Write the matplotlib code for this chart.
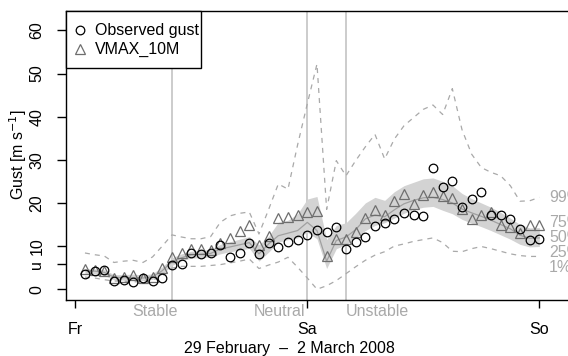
import numpy as np
import matplotlib.pyplot as plt
from matplotlib.patches import Rectangle
from matplotlib.transforms import blended_transform_factory

plt.rcParams['font.family'] = ['Liberation Sans', 'DejaVu Sans']

# hours after Friday 00 UTC
hours = np.arange(1, 49)

observed = [3.5, 4.2, 4.4, 1.8, 2.2, 1.7, 2.6, 1.9, 2.7, 5.5,
            5.9, 8.4, 8.2, 8.4, 10.3, 7.4, 8.4, 10.8, 8.1, 10.7,
            9.8, 10.9, 11.3, 12.6, 13.8, 13.2, 14.5, 9.4, 11.0, 12.0,
            14.6, 15.4, 16.2, 17.6, 17.3, 16.9, 28.0, 23.6, 25.2, 19.0,
            20.9, 22.5, 17.3, 17.1, 16.3, 14.0, 11.5, 11.6]

vmax_10m = [4.8, 4.5, 4.2, 2.7, 2.8, 3.2, 2.5, 2.8, 5.0, 7.5,
            8.4, 9.3, 9.3, 9.0, 10.8, 11.8, 13.6, 15.0, 10.3, 12.4,
            16.4, 16.7, 17.3, 18.0, 18.2, 7.6, 11.7, 11.7, 13.3, 16.6,
            18.4, 17.1, 20.5, 22.0, 19.8, 21.9, 22.5, 21.7, 21.2, 18.6,
            16.2, 17.3, 17.8, 14.8, 14.4, 13.0, 14.8, 14.8]

q01 = [2.8, 2.6, 2.2, 1.9, 1.9, 1.7, 1.8, 2.1, 3.0, 4.9,
       5.3, 5.3, 5.3, 5.5, 5.7, 6.1, 6.5, 7.0, 4.8, 5.6,
       6.3, 7.4, 5.1, 2.6, 0.0, 0.8, 2.0, 3.6, 5.2, 6.7,
       7.9, 8.7, 10.0, 10.5, 11.1, 11.5, 11.9, 10.8, 8.8, 8.7,
       9.4, 9.9, 9.4, 8.8, 8.2, 7.8, 7.6, 7.6]

q25 = [3.7, 3.6, 3.2, 2.2, 2.1, 2.0, 2.0, 2.3, 3.5, 5.5,
       6.6, 7.2, 7.3, 7.5, 8.2, 8.7, 9.0, 9.5, 6.5, 8.6,
       10.9, 11.5, 11.9, 13.2, 11.7, 4.8, 9.4, 10.3, 11.9, 13.6,
       14.8, 15.4, 16.5, 17.6, 18.5, 19.0, 19.2, 18.3, 17.5, 16.2,
       15.3, 14.5, 13.6, 12.6, 11.6, 10.4, 9.8, 9.9]

q50 = [4.3, 4.2, 3.9, 2.8, 2.7, 2.7, 2.6, 2.9, 4.3, 6.4,
       7.3, 8.0, 8.1, 8.3, 9.3, 9.8, 10.3, 10.8, 8.2, 10.5,
       12.4, 13.0, 13.6, 15.5, 13.6, 6.5, 11.3, 12.1, 13.8, 16.3,
       17.2, 16.8, 18.4, 19.8, 20.6, 21.2, 21.3, 20.8, 20.0, 18.6,
       17.7, 16.9, 16.0, 15.0, 14.0, 12.5, 11.8, 11.9]

q75 = [4.8, 4.7, 4.5, 3.4, 3.4, 3.5, 3.3, 3.6, 5.2, 7.3,
       8.2, 8.8, 9.0, 9.2, 10.4, 11.0, 11.6, 12.2, 10.3, 12.3,
       15.5, 16.0, 17.5, 20.9, 21.5, 11.5, 14.8, 15.4, 17.6, 20.0,
       21.3, 20.6, 22.6, 24.0, 24.8, 25.6, 25.8, 25.0, 24.0, 22.2,
       21.0, 20.0, 19.0, 17.8, 16.5, 15.0, 14.2, 14.3]

q99 = [8.4, 8.0, 7.7, 6.2, 6.5, 6.7, 6.2, 7.5, 10.0, 12.6,
       12.1, 11.7, 11.7, 12.2, 15.5, 17.0, 17.6, 17.9, 12.8, 18.5,
       24.4, 23.2, 33.5, 43.0, 52.2, 18.5, 29.8, 26.3, 29.8, 33.0,
       35.9, 30.2, 34.8, 37.9, 39.8, 41.7, 42.7, 40.5, 46.5, 37.0,
       31.3, 28.2, 27.1, 26.3, 24.0, 20.4, 20.5, 21.3]

day_ticks = [0, 24, 48]
day_labels = ['Fr', 'Sa', 'So']
y_ticks = [0, 5.8, 10, 20, 30, 40, 50, 60]
y_labels = ['0', 'u', '10', '20', '30', '40', '50', '60']
regime_bounds = [10, 24, 28]
quant_names = ['99%', '75%', '50%', '25%', '1%']
quant_label_y = [21.3, 15.5, 12.1, 8.6, 5.1]
legend_names = ['Observed gust', 'VMAX_10M']

grey = '#a9a9a9'
fs = 11.5

fig = plt.figure(figsize=(5.68, 3.56), dpi=100)
ax = fig.add_axes([66/568, 56/356, 512/568, 289/356])

ax.fill_between(hours, q25, q75, color='#d3d3d3', lw=0, zorder=1)
ax.plot(hours, q50, color='#a0a0a0', lw=0.9, zorder=2)
ax.plot(hours, q99, color=grey, lw=0.9, ls=(0, (4, 4)), zorder=2)
ax.plot(hours, q01, color=grey, lw=0.9, ls=(0, (4, 4)), zorder=2)

for b in regime_bounds:
    ax.axvline(b, color='#c4c4c4', lw=1.2, zorder=0)

obs_style = dict(ls='none', marker='o', ms=6.2, mfc='none', mec='black', mew=0.9)
vmax_style = dict(ls='none', marker='^', ms=7.5, mfc='none', mec='#6e6e6e', mew=0.9)
ax.plot(hours, vmax_10m, zorder=3, **vmax_style)
ax.plot(hours, observed, zorder=4, **obs_style)

ax.set_xlim(-0.96, 52)
ax.set_ylim(-2.5, 64.5)

ax.set_xticks(day_ticks)
ax.set_xticklabels(day_labels, fontsize=fs)
ax.set_yticks(y_ticks)
ax.set_yticklabels(y_labels, fontsize=fs, rotation=90, va='center')
ax.tick_params(axis='x', length=6, width=1, pad=10)
ax.tick_params(axis='y', length=6.5, width=1, pad=9)
for s in ax.spines.values():
    s.set_linewidth(1)

# regime names below the axis
trans = blended_transform_factory(ax.transData, ax.transAxes)
ax.text(8.2, -0.04, 'Stable', transform=trans, ha='center', va='center',
        color=grey, fontsize=fs, clip_on=False)
ax.text(23.8, -0.04, 'Neutral', transform=trans, ha='right', va='center',
        color=grey, fontsize=fs, clip_on=False)
ax.text(28.0, -0.04, 'Unstable', transform=trans, ha='left', va='center',
        color=grey, fontsize=fs, clip_on=False)

for name, yv in zip(quant_names, quant_label_y):
    ax.text(49.0, yv, name, ha='left', va='center', color=grey,
            fontsize=fs, clip_on=False)

fig.text(18/568, 1 - 155/356, 'Gust [m s$^{-1}$]', rotation=90,
         ha='center', va='center', fontsize=fs)
fig.text(289/568, 1 - 348/356, '29 February  \u2013  2 March 2008',
         ha='center', va='center', fontsize=fs)

# legend box drawn by hand (R style: tight frame in the top-left corner)
W, H = 512.0, 289.0
ax.add_patch(Rectangle((0, 1 - 57/H), 135/W, 57/H, transform=ax.transAxes,
                       facecolor='white', edgecolor='black', lw=1,
                       zorder=5, clip_on=False))
for i, (name, sty) in enumerate(zip(legend_names, [obs_style, vmax_style])):
    yy = 1 - (19 + 19*i)/H
    ax.plot([14/W], [yy], transform=ax.transAxes, zorder=6, clip_on=False, **sty)
    ax.text(29/W, yy, name, transform=ax.transAxes, ha='left', va='center',
            fontsize=fs, zorder=6)

fig.savefig('out.png', dpi=100)
